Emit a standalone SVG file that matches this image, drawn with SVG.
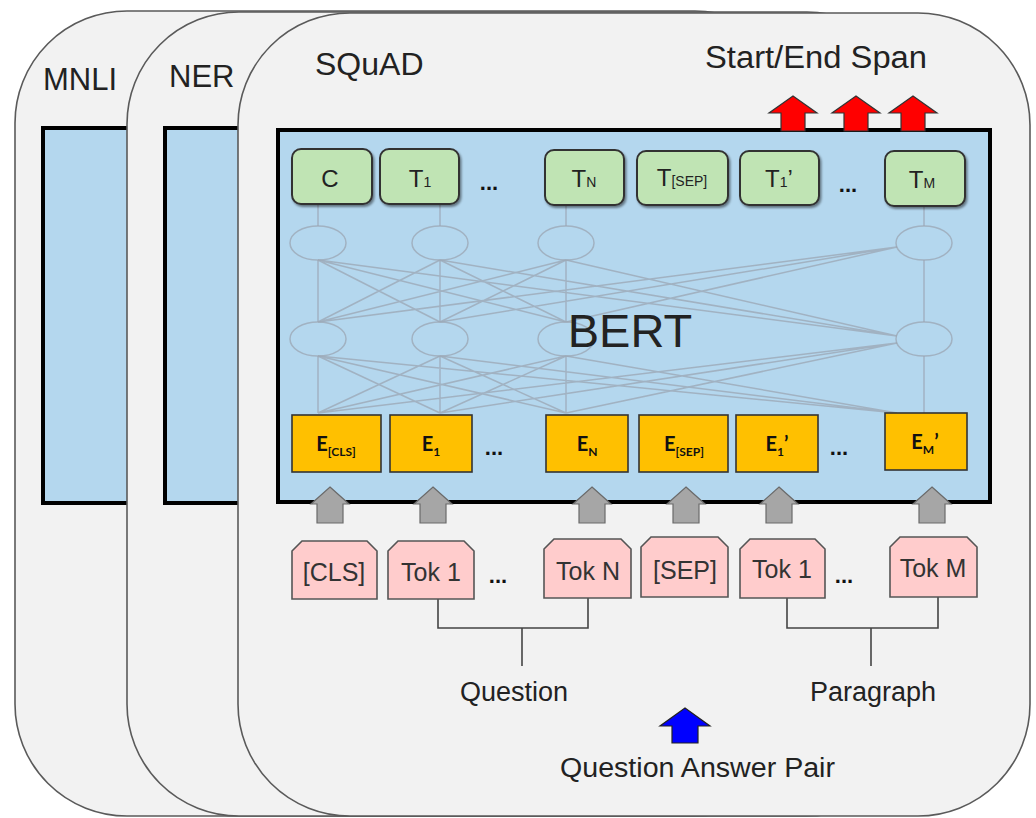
<svg xmlns="http://www.w3.org/2000/svg" width="1036" height="818" viewBox="0 0 1036 818">
<defs>
<style>
.card{fill:#f2f2f2;stroke:#5a5a5a;stroke-width:1.6}
.inner{fill:#b4d7ee;stroke:#000;stroke-width:4}
.lbl{font-family:"Liberation Sans",Arial,sans-serif;fill:#222}
.green{fill:#c0e4b4;stroke:#333;stroke-width:2}
.orange{fill:#ffc000;stroke:#333;stroke-width:1.6}
.tok{fill:#ffcccc;stroke:#555;stroke-width:1.6}
.gray{fill:#a6a6a6;stroke:#6a6a6a;stroke-width:1.2}
.red{fill:#ff0000;stroke:#333;stroke-width:1.2}
.blue{fill:#0000ff;stroke:#222;stroke-width:1.2}
.net{fill:none;stroke:#9ba6b3;stroke-width:1.5;opacity:0.75}
.tt{font-family:"Liberation Sans",Arial,sans-serif;font-size:24px;fill:#222;text-anchor:middle}
.et{font-family:Lato,"Open Sans",sans-serif;font-weight:bold;font-size:20px;fill:#111;text-anchor:middle}
.kt{font-family:"Liberation Sans",Arial,sans-serif;font-size:25px;fill:#333;text-anchor:middle}
.dots{font-family:"Liberation Sans",Arial,sans-serif;font-weight:bold;font-size:22px;fill:#111;text-anchor:middle}
.brk{fill:none;stroke:#444;stroke-width:1.6}
</style>
<filter id="sh" x="-10%" y="-10%" width="130%" height="140%">
<feDropShadow dx="1.5" dy="2" stdDeviation="1.2" flood-color="#000" flood-opacity="0.45"/>
</filter>
</defs>

<g id="card-mnli">
<rect class="card" x="15" y="11" width="792" height="805" rx="112" ry="112"/>
<rect class="inner" x="43" y="128" width="300" height="375"/>
<text class="lbl" x="43" y="90" font-size="31">MNLI</text>
</g>
<g id="card-ner">
<rect class="card" x="127" y="12" width="792" height="804" rx="112" ry="112"/>
<rect class="inner" x="165" y="128" width="300" height="375"/>
<text class="lbl" x="169" y="87" font-size="31">NER</text>
</g>
<g id="card-squad">
<rect class="card" x="238" y="13" width="792" height="803" rx="112" ry="112"/>
<text class="lbl" x="315" y="75" font-size="32">SQuAD</text>
<text class="lbl" x="705" y="68" font-size="31" textLength="222" lengthAdjust="spacingAndGlyphs">Start/End Span</text>
</g>

<g id="bert">
<rect class="inner" x="278" y="130" width="712" height="372"/>
</g>

<g id="connectors">
<g id="network">
<path class="net" d="M318,205L318,226M440,205L440,226M566,205L566,226M924,205L924,226
M318,260L318,322M318,260L440,322M318,260L566,322M318,260L897,336
M440,260L318,322M440,260L440,322M440,260L566,322M440,260L897,336
M566,260L318,322M566,260L440,322M566,260L566,322M566,260L897,336
M897,247L318,322M897,247L440,322M897,247L566,322M924,260L924,322
M318,356L318,413M318,356L440,413M318,356L566,413M318,356L897,413
M440,356L318,413M440,356L440,413M440,356L566,413M440,356L897,413
M566,356L318,413M566,356L440,413M566,356L566,413M566,356L897,413
M897,343L318,413M897,343L440,413M897,343L566,413M924,356L924,413"/>
<ellipse class="net" cx="318" cy="243" rx="28" ry="17"/>
<ellipse class="net" cx="440" cy="243" rx="28" ry="17"/>
<ellipse class="net" cx="566" cy="243" rx="28" ry="17"/>
<ellipse class="net" cx="924" cy="243" rx="28" ry="17"/>
<ellipse class="net" cx="318" cy="339" rx="28" ry="17"/>
<ellipse class="net" cx="440" cy="339" rx="28" ry="17"/>
<ellipse class="net" cx="566" cy="339" rx="28" ry="17"/>
<ellipse class="net" cx="924" cy="339" rx="28" ry="17"/>
</g>
<g id="brackets">
<path class="brk" d="M438,599L438,628L588,628L588,598"/>
<path class="brk" d="M522,628L522,666" stroke-width="2.2"/>
<path class="brk" d="M787,598L787,628L938,628L938,597"/>
<path class="brk" d="M871,628L871,666" stroke-width="2.2"/>
</g>
<g id="gray-arrows">
<polygon class="gray" points="330,487 349,504 343,504 343,523 317,523 317,504 311,504"/>
<polygon class="gray" points="433,487 452,504 446,504 446,523 420,523 420,504 414,504"/>
<polygon class="gray" points="592,487 611,504 605,504 605,523 579,523 579,504 573,504"/>
<polygon class="gray" points="686,487 705,504 699,504 699,523 673,523 673,504 667,504"/>
<polygon class="gray" points="779,487 798,504 792,504 792,523 766,523 766,504 760,504"/>
<polygon class="gray" points="932,487 951,504 945,504 945,523 919,523 919,504 913,504"/>
</g>
<g id="red-arrows">
<polygon class="red" points="793,96 817,113 805,113 805,131 781,131 781,113 769,113"/>
<polygon class="red" points="856,96 880,113 868,113 868,131 844,131 844,113 832,113"/>
<polygon class="red" points="913,96 937,113 925,113 925,131 901,131 901,113 889,113"/>
</g>
<g id="blue-arrow">
<polygon class="blue" points="685,708 710,726 698,726 698,743 672,743 672,726 660,726"/>
</g>
</g>

<g id="bert-label">
<text class="lbl" x="630" y="347" font-size="47" text-anchor="middle" fill="#111">BERT</text>
</g>

<g id="outputs">
<g id="t-c"><rect class="green" filter="url(#sh)" x="292" y="149" width="80" height="55" rx="9"/><text class="tt" x="330" y="187">C</text></g>
<g id="t-1"><rect class="green" filter="url(#sh)" x="380" y="149" width="79" height="55" rx="9"/><text class="tt" x="420" y="187">T<tspan font-size="14">1</tspan></text></g>
<text class="dots" x="489" y="190">...</text>
<g id="t-n"><rect class="green" filter="url(#sh)" x="545" y="150" width="79" height="55" rx="9"/><text class="tt" x="584" y="187">T<tspan font-size="14">N</tspan></text></g>
<g id="t-sep"><rect class="green" filter="url(#sh)" x="637" y="151" width="91" height="54" rx="9"/><text class="tt" x="682" y="186">T<tspan font-size="14">[SEP]</tspan></text></g>
<g id="t-1p"><rect class="green" filter="url(#sh)" x="740" y="151" width="79" height="54" rx="9"/><text class="tt" x="779" y="187">T<tspan font-size="14">1</tspan>’</text></g>
<text class="dots" x="848" y="192">...</text>
<g id="t-m"><rect class="green" filter="url(#sh)" x="885" y="151" width="80" height="55" rx="9"/><text class="tt" x="922" y="188">T<tspan font-size="14">M</tspan></text></g>
</g>

<g id="embeddings">
<g id="e-cls"><rect class="orange" x="292" y="415" width="89" height="57"/><text class="et" x="336" y="451">E<tspan font-size="12" dy="5">[CLS]</tspan></text></g>
<g id="e-1"><rect class="orange" x="390" y="415" width="82" height="57"/><text class="et" x="431" y="451">E<tspan font-size="12" dy="5">1</tspan></text></g>
<text class="dots" x="494" y="455">...</text>
<g id="e-n"><rect class="orange" x="546" y="415" width="82" height="57"/><text class="et" x="587" y="451">E<tspan font-size="12" dy="5">N</tspan></text></g>
<g id="e-sep"><rect class="orange" x="639" y="415" width="89" height="57"/><text class="et" x="684" y="451">E<tspan font-size="12" dy="5">[SEP]</tspan></text></g>
<g id="e-1p"><rect class="orange" x="736" y="415" width="82" height="57"/><text class="et" x="777" y="451">E<tspan font-size="12" dy="5">1</tspan><tspan dy="-5">’</tspan></text></g>
<text class="dots" x="839" y="455">...</text>
<g id="e-mp"><rect class="orange" x="885" y="413" width="82" height="57"/><text class="et" x="925" y="449">E<tspan font-size="12" dy="5">M</tspan><tspan dy="-5">’</tspan></text></g>
</g>

<g id="tokens">
<g id="tok-cls"><path class="tok" d="M292,551L302,541L367,541L377,551L377,599L292,599Z"/><text class="kt" x="334" y="581">[CLS]</text></g>
<g id="tok-q1"><path class="tok" d="M388,551L398,541L464,541L474,551L474,599L388,599Z"/><text class="kt" x="431" y="581">Tok 1</text></g>
<text class="dots" x="498" y="583">...</text>
<g id="tok-qn"><path class="tok" d="M544,549L554,539L621,539L631,549L631,598L544,598Z"/><text class="kt" x="588" y="580">Tok N</text></g>
<g id="tok-sep"><path class="tok" d="M641,547L651,537L718,537L728,547L728,597L641,597Z"/><text class="kt" x="685" y="579">[SEP]</text></g>
<g id="tok-p1"><path class="tok" d="M740,549L750,539L815,539L825,549L825,598L740,598Z"/><text class="kt" x="782" y="578">Tok 1</text></g>
<text class="dots" x="844" y="583">...</text>
<g id="tok-pm"><path class="tok" d="M890,547L900,537L967,537L977,547L977,597L890,597Z"/><text class="kt" x="933" y="577">Tok M</text></g>
</g>

<g id="labels">
<text class="lbl" x="514" y="701" font-size="27" text-anchor="middle">Question</text>
<text class="lbl" x="873" y="701" font-size="27" text-anchor="middle">Paragraph</text>
<text class="lbl" x="560" y="777" font-size="27" textLength="275" lengthAdjust="spacingAndGlyphs">Question Answer Pair</text>
</g>
</svg>
